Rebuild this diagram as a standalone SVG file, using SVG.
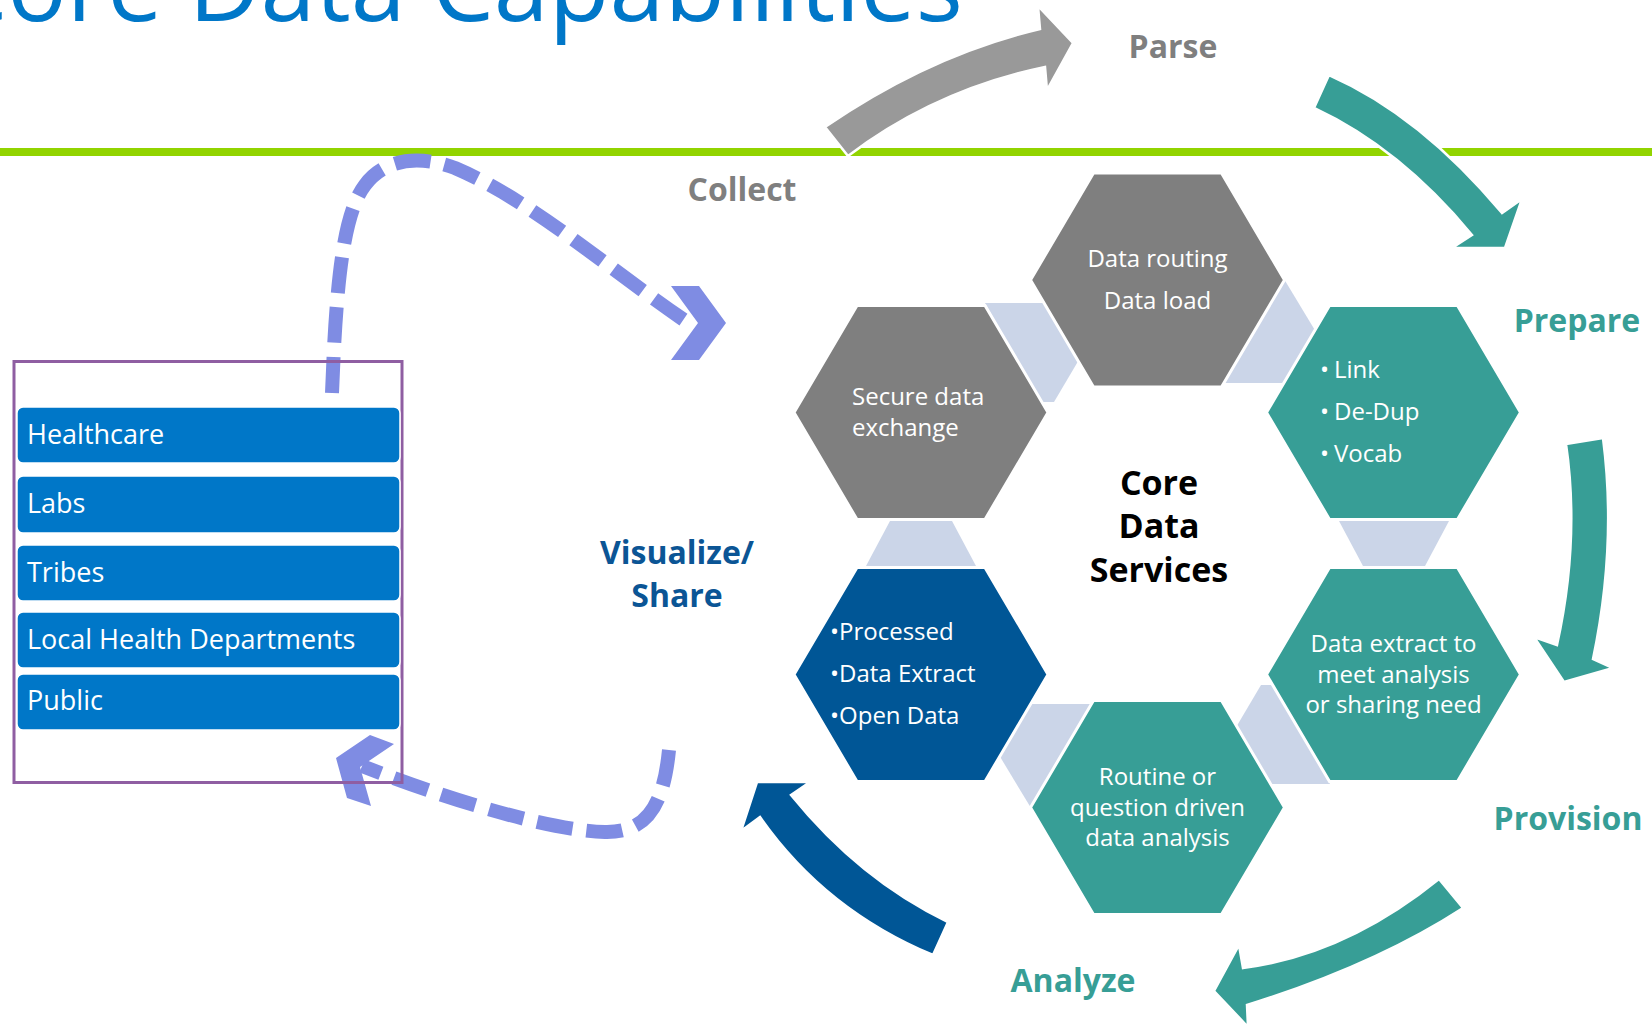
<svg xmlns="http://www.w3.org/2000/svg" width="1652" height="1027" viewBox="0 0 1652 1027">
<style>
.hexg{fill:#7F7F7F;stroke:#fff;stroke-width:3}
.hext{fill:#379E96;stroke:#fff;stroke-width:3}
.hexb{fill:#005696;stroke:#fff;stroke-width:3}
.conn{fill:#CBD5E8}
.ht{font-family:'Open Sans','Liberation Sans',sans-serif;font-size:24px;fill:#fff}
.lbl{font-family:'Open Sans','Liberation Sans',sans-serif;font-weight:bold;font-size:32px;text-anchor:middle}
.bar{fill:#0077C8;stroke:#fff;stroke-width:1.5}
.bt{font-family:'Open Sans','Liberation Sans',sans-serif;font-size:27px;fill:#fff}
.dash{fill:none;stroke:#7F8CE3;stroke-width:14;stroke-dasharray:36 14}
.arr{stroke:#fff;stroke-width:2.5}
</style>
<defs>
<polygon id="hex" points="-64,-107 64,-107 127,0 64,107 -64,107 -127,0"/>
</defs>
<rect width="1652" height="1027" fill="#fff"/>
<text x="963" y="21" text-anchor="end" font-family="'Open Sans','Liberation Sans',sans-serif" font-size="99" fill="#0077C8">Core Data Capabilities</text>
<rect x="0" y="148" width="1652" height="8" fill="#92D400"/>

<g id="connectors">
<g id="arrows">
<path class="arr" fill="#999999" d="M825,127 Q930,55 1040,29 L1038,6 L1073,43 L1047,90 L1045,67 Q935,90 848,156 Z"/>
<path class="arr" fill="#379E96" d="M1329,75 Q1420,115 1502,213 L1522,199 L1505,248 L1452,248 L1472,235 Q1400,148 1314,108 Z"/>
<path class="arr" fill="#379E96" d="M1603,438 Q1617,545 1593,659 L1613,668 L1564,682 L1534,637 L1557,645 Q1580,540 1566,444 Z"/>
<path class="arr" fill="#379E96" d="M1439,879 Q1345,955 1243,968 L1239,945 L1214,991 L1248,1027 L1247,1005 Q1375,965 1463,908 Z"/>
<path class="arr" fill="#005696" d="M948,922 Q860,880 791,795 L810,782 L757,782 L741,831 L760,817 Q825,910 933,955 Z"/>
</g>
<g id="dashed">
<path class="dash" d="M332,393 C336,290 342,215 365,185 C385,158 420,155 455,168 C530,200 600,262 684,320"/>
<polygon fill="#7F8CE3" points="671,286 699,286 726,323 699,360 671,360 698,323"/>
<path class="dash" d="M669,750 C664,800 650,833 605,832 C560,831 470,808 362,766"/>
<polygon fill="#7F8CE3" points="371,806 347,798 336,758 370,735 394,744 360,767"/>
</g>
<g id="hex-links">
<polygon class="conn" points="985,303 1045,303 1080,358 1054,402 1040,402 1000,330"/>
<polygon class="conn" points="1284,279 1316,332 1292,383 1224,383 1250,330"/>
<polygon class="conn" points="1339,521 1449,521 1425,566 1363,566"/>
<polygon class="conn" points="1330,784 1270,784 1235,729 1261,685 1275,685 1315,757"/>
<polygon class="conn" points="1031,808 999,755 1023,704 1091,704 1065,757"/>
<polygon class="conn" points="890,521 952,521 976,566 866,566"/>
</g>
</g>

<g id="node-routing">
<use href="#hex" x="1157.5" y="280" class="hexg"/>
<text class="ht" x="1157.5" y="267" text-anchor="middle">Data routing</text>
<text class="ht" x="1157.5" y="309" text-anchor="middle">Data load</text>
</g>
<g id="node-secure">
<use href="#hex" x="921" y="412.5" class="hexg"/>
<text class="ht" x="852" y="405">Secure data</text>
<text class="ht" x="852" y="436">exchange</text>
</g>
<g id="node-prepare">
<use href="#hex" x="1393.5" y="412.5" class="hext"/>
<text class="ht" x="1320" y="378">•</text><text class="ht" x="1334" y="378">Link</text>
<text class="ht" x="1320" y="420">•</text><text class="ht" x="1334" y="420">De-Dup</text>
<text class="ht" x="1320" y="462">•</text><text class="ht" x="1334" y="462">Vocab</text>
</g>
<g id="node-share">
<use href="#hex" x="921" y="674.5" class="hexb"/>
<text class="ht" x="830" y="640">•Processed</text>
<text class="ht" x="830" y="682">•Data Extract</text>
<text class="ht" x="830" y="724">•Open Data</text>
</g>
<g id="node-provision">
<use href="#hex" x="1393.5" y="674.5" class="hext"/>
<text class="ht" x="1393.5" y="652" text-anchor="middle">Data extract to</text>
<text class="ht" x="1393.5" y="683" text-anchor="middle">meet analysis</text>
<text class="ht" x="1393.5" y="713" text-anchor="middle">or sharing need</text>
</g>
<g id="node-analyze">
<use href="#hex" x="1157.5" y="807.5" class="hext"/>
<text class="ht" x="1157.5" y="785" text-anchor="middle">Routine or</text>
<text class="ht" x="1157.5" y="816" text-anchor="middle">question driven</text>
<text class="ht" x="1157.5" y="846" text-anchor="middle">data analysis</text>
</g>
<g id="node-core" font-family="'Open Sans','Liberation Sans',sans-serif" font-weight="bold" font-size="34" text-anchor="middle" fill="#000">
<text x="1159" y="495">Core</text>
<text x="1159" y="538">Data</text>
<text x="1159" y="582">Services</text>
</g>

<g id="labels">
<text class="lbl" x="1173" y="58" fill="#7F7F7F">Parse</text>
<text class="lbl" x="742" y="201" fill="#7F7F7F">Collect</text>
<text class="lbl" x="1577" y="332" fill="#379E96">Prepare</text>
<text class="lbl" x="1568" y="830" fill="#379E96">Provision</text>
<text class="lbl" x="1073" y="992" fill="#379E96">Analyze</text>
<text class="lbl" x="677" y="564" fill="#0B5595">Visualize/</text>
<text class="lbl" x="677" y="607" fill="#0B5595">Share</text>
</g>

<g id="node-sources">
<rect x="14" y="361.5" width="388" height="421" fill="none" stroke="#8F5EA2" stroke-width="3"/>
<rect class="bar" x="17" y="407" width="383" height="56" rx="6"/>
<text class="bt" x="27" y="444">Healthcare</text>
<rect class="bar" x="17" y="476" width="383" height="57" rx="6"/>
<text class="bt" x="27" y="513">Labs</text>
<rect class="bar" x="17" y="545" width="383" height="56" rx="6"/>
<text class="bt" x="27" y="582">Tribes</text>
<rect class="bar" x="17" y="612" width="383" height="56" rx="6"/>
<text class="bt" x="27" y="649">Local Health Departments</text>
<rect class="bar" x="17" y="674" width="383" height="56" rx="6"/>
<text class="bt" x="27" y="710">Public</text>
</g>
</svg>
